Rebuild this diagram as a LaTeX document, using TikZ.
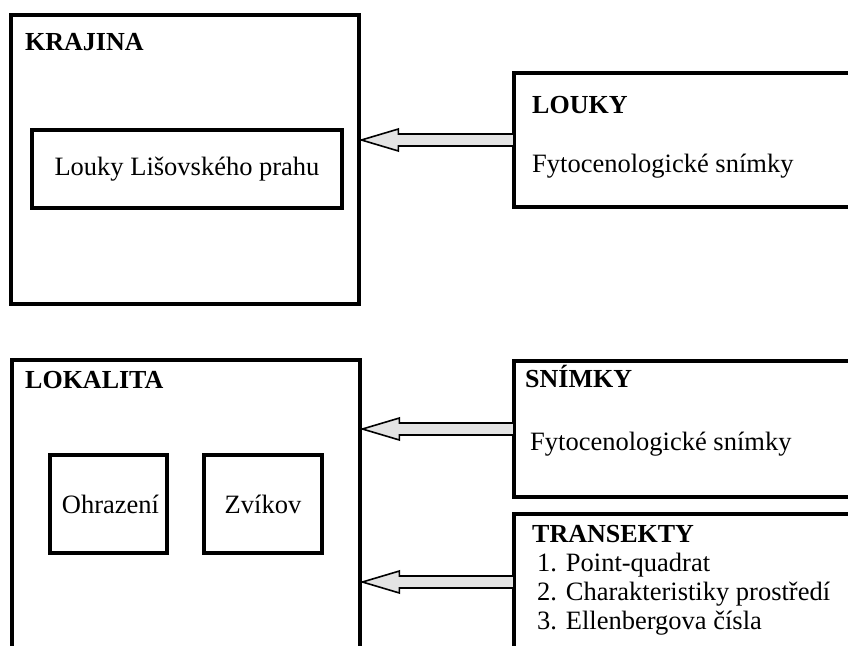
\documentclass[tikz,border=0pt]{standalone}
\usepackage{fontspec}
\setmainfont{Liberation Serif}
\usetikzlibrary{
  arrows.meta,
  positioning,
  calc
}

\begin{document}
\begin{tikzpicture}[
  x=1pt, y=-1pt,
  font=\fontsize{26.5}{29.5}\selectfont,
  bigbox/.style={
    draw, line width=4.8pt, inner sep=0pt, outer sep=0pt
  },
  smallbox/.style={
    draw, line width=4pt, inner sep=0pt, outer sep=0pt
  },
  heading/.style={
    anchor=base west, inner sep=0pt,
    font=\fontsize{26}{29.5}\selectfont\bfseries
  },
  body/.style={
    anchor=base west, inner sep=0pt
  },
  fatarrow/.style={
    draw, line width=1.6pt, fill=gray!22, line join=miter,
    to path={
      ($(\tikztostart)+(0,6)$) -- ($(\tikztotarget)+(37,6)$)
      -- ($(\tikztotarget)+(37,11)$) -- (\tikztotarget)
      -- ($(\tikztotarget)+(37,-11)$) -- ($(\tikztotarget)+(37,-6)$)
      -- ($(\tikztostart)+(0,-6)$) -- cycle
    }
  }
]
\clip (0,0) rectangle (848,645);
\useasboundingbox (0,0) rectangle (848,645);

% Upper part: landscape
\node[bigbox, minimum width=348pt, minimum height=289pt] (krajina) at (185,159.5) {};
\node[smallbox, minimum width=310pt, minimum height=78pt] (lisov) at (187,169) {Louky Lišovského prahu};
\node[heading] at ([shift={(14,35)}]krajina.north west) {KRAJINA};

\node[smallbox, minimum width=386pt, minimum height=134pt] (louky) at (707,140) {};
\node[heading] at ([shift={(18,40)}]louky.north west) {LOUKY};
\node[body] at ([shift={(18,99)}]louky.north west) {Fytocenologické snímky};

% Lower part: locality
\node[bigbox, minimum width=348pt, minimum height=340pt] (lokalita) at (186,530) {};
\node[heading] at ([shift={(13,28)}]lokalita.north west) {LOKALITA};
\node[smallbox, minimum width=117pt, minimum height=98pt] (ohrazeni) at (108.5,504) {\hspace{4pt}Ohrazení};
\node[smallbox, minimum width=118pt, minimum height=98pt] (zvikov) at (263,504) {Zvíkov};

\node[smallbox, minimum width=386pt, minimum height=136pt] (snimky) at (707,429) {};
\node[heading] at ([shift={(11,26)}]snimky.north west) {SNÍMKY};
\node[body] at ([shift={(16,89)}]snimky.north west) {Fytocenologické snímky};

\node[smallbox, minimum width=386pt, minimum height=136pt] (transekty) at (707,582) {};
\node[heading] at ([shift={(18,28)}]transekty.north west) {TRANSEKTY};
\foreach \txt [count=\i] in {Point-quadrat, Charakteristiky prostředí, Ellenbergova čísla}
  \node[body] (item\i) at ([shift={(23,28+29.3*\i)}]transekty.north west) {\i. \txt};

% Arrows into the left boxes
\coordinate (tipA) at (louky.west -| krajina.east);
\coordinate (tipB) at (snimky.west -| lokalita.east);
\coordinate (tipC) at (transekty.west -| lokalita.east);
\draw[fatarrow] (louky.west) to ([xshift=2.4pt]tipA);
\draw[fatarrow] (snimky.west) to ([xshift=2.4pt]tipB);
\draw[fatarrow] (transekty.west) to ([xshift=2.4pt]tipC);

\end{tikzpicture}
\end{document}
